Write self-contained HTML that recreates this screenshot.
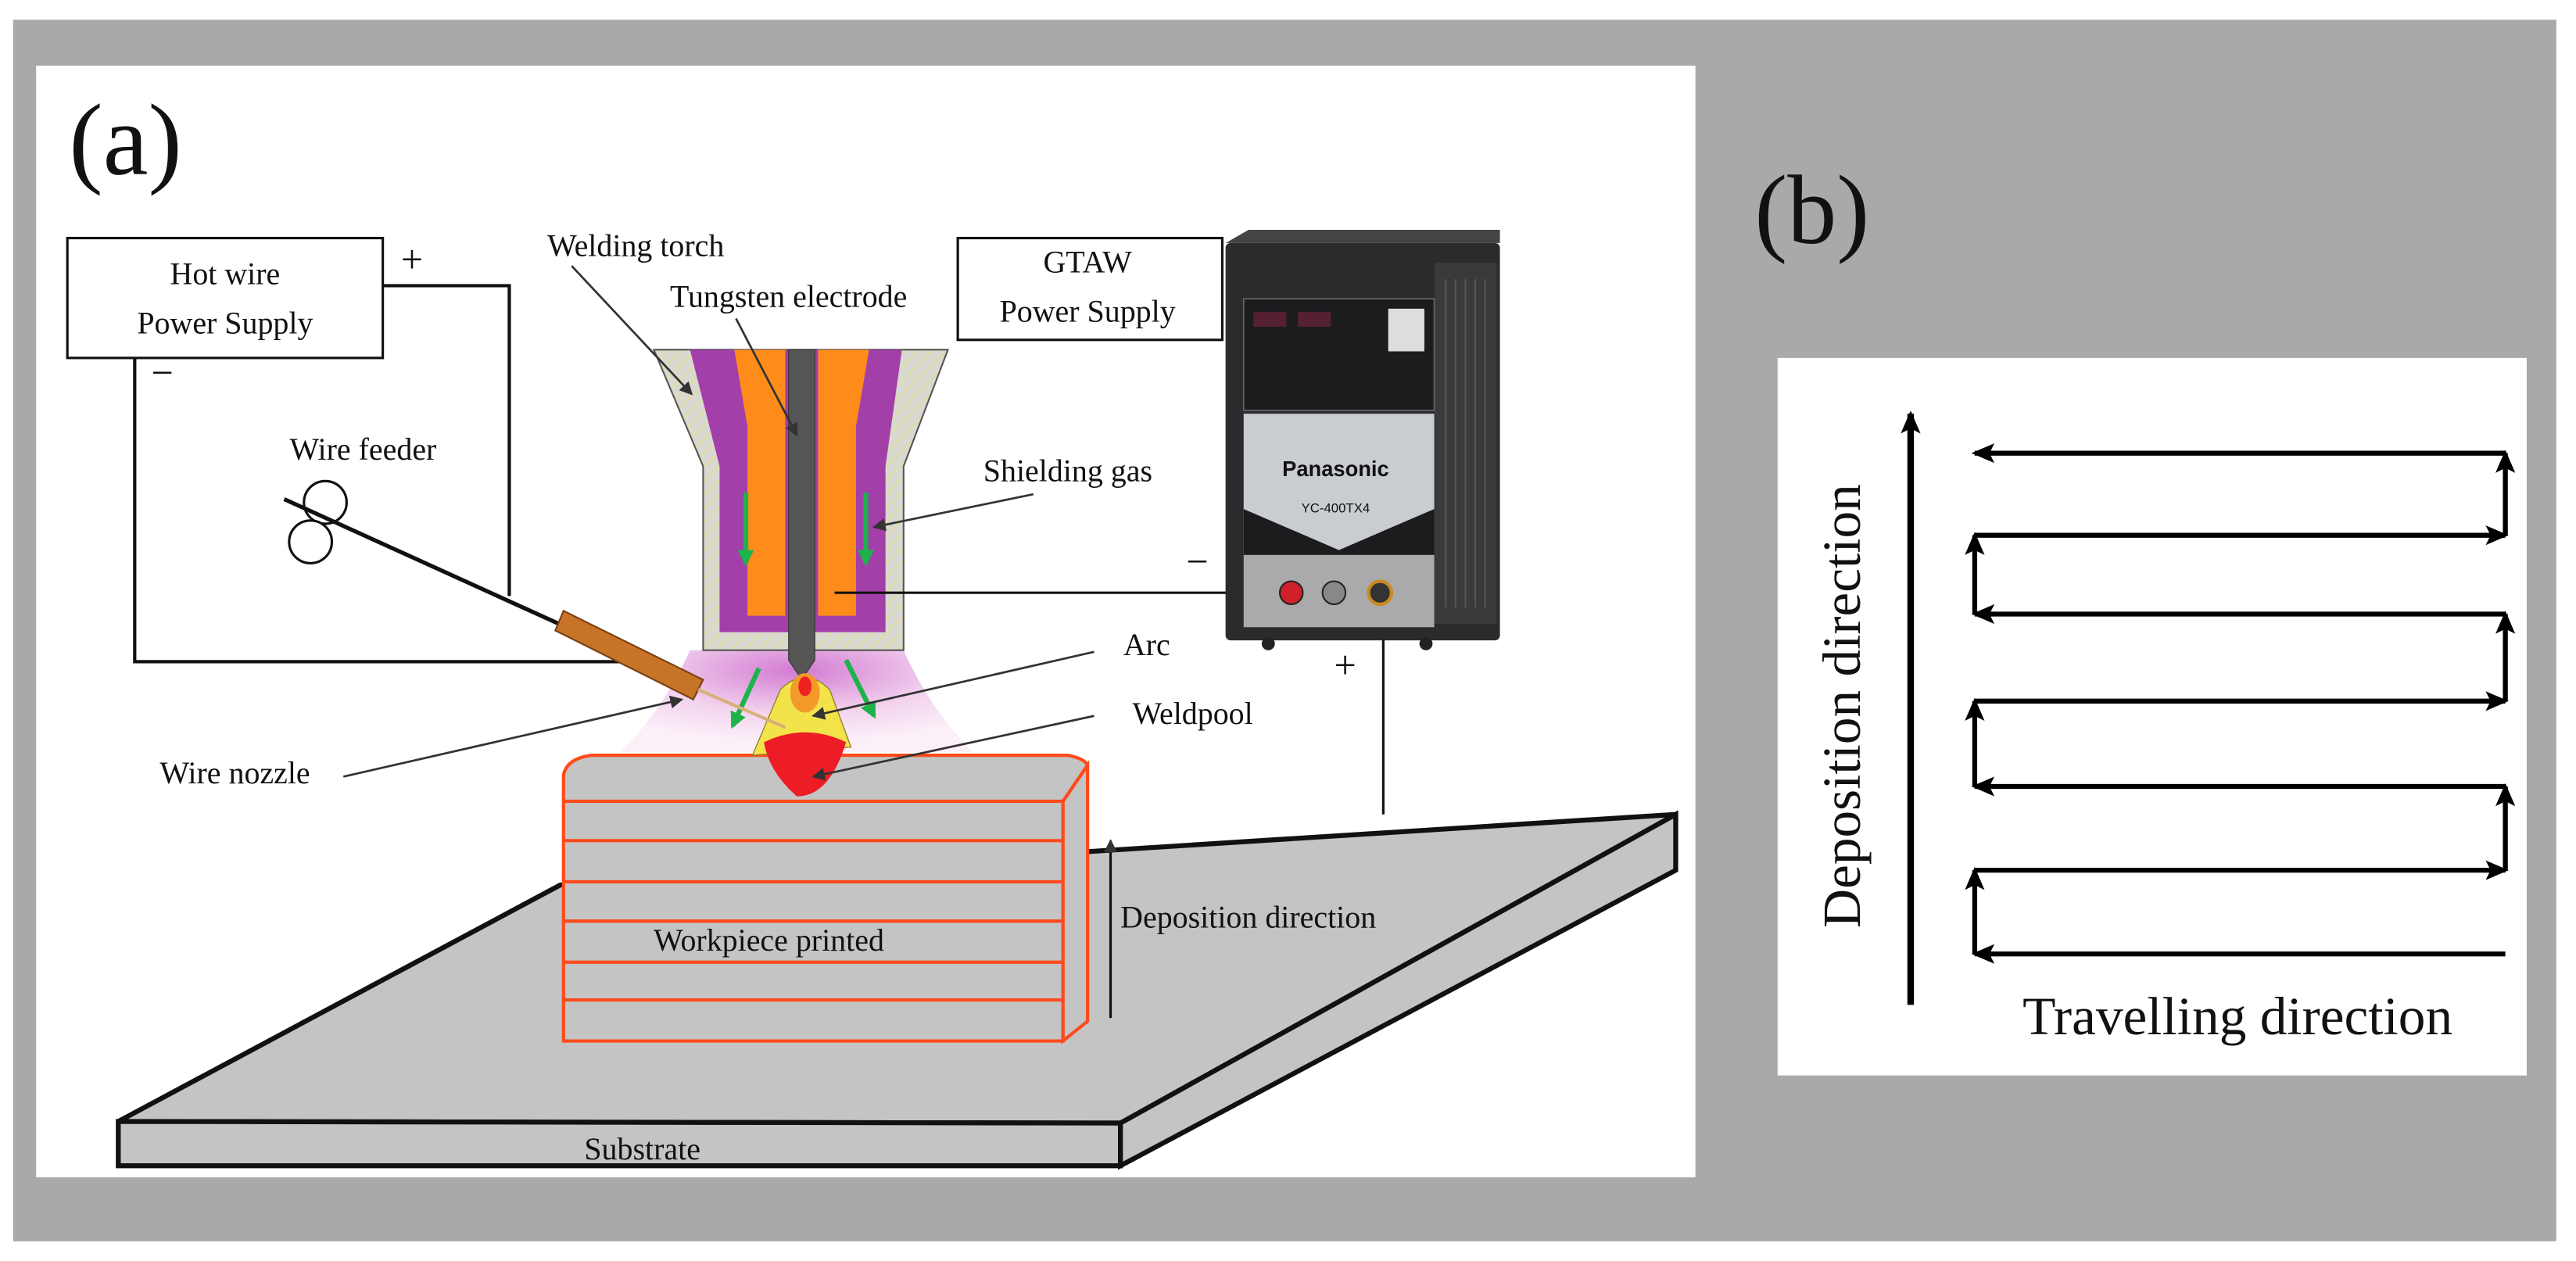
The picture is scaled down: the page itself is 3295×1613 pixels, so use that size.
<!DOCTYPE html>
<html><head><meta charset="utf-8"><style>
html,body{margin:0;padding:0;background:#fff;width:3295px;height:1613px;overflow:hidden}
svg{display:block}
text{font-family:"Liberation Serif",serif;fill:#111}
</style></head><body>
<svg width="3295" height="1613" viewBox="0 0 1568 768" preserveAspectRatio="none" xmlns="http://www.w3.org/2000/svg">
<defs>
<marker id="ah" markerWidth="8" markerHeight="8" refX="7" refY="4" orient="auto" markerUnits="userSpaceOnUse"><path d="M0,0 L8,4 L0,8 Z" fill="#333"/></marker>
<marker id="bh" markerWidth="14" markerHeight="12" refX="12" refY="6" orient="auto" markerUnits="userSpaceOnUse"><path d="M0,0 L14,6 L0,12 L3,6 Z" fill="#000"/></marker>
<marker id="gh" markerWidth="10" markerHeight="10" refX="8" refY="5" orient="auto" markerUnits="userSpaceOnUse"><path d="M0,0 L10,5 L0,10 Z" fill="#1db34a"/></marker>
<radialGradient id="pk" cx="0.5" cy="0.2" r="0.7"><stop offset="0" stop-color="#d27ad2"/><stop offset="0.6" stop-color="#f3d3ee"/><stop offset="1" stop-color="#fbeff8"/></radialGradient>
<pattern id="hatch" width="6" height="6" patternUnits="userSpaceOnUse" patternTransform="rotate(45)"><rect width="6" height="6" fill="#d9d9d2"/><line x1="0" y1="0" x2="0" y2="6" stroke="#e8e070" stroke-width="1"/></pattern>
</defs>
<rect x="8" y="12" width="1548" height="744" fill="#a9a9a9"/>
<rect x="22" y="40" width="1010" height="677" fill="#fff"/>
<rect x="1082" y="218" width="456" height="437" fill="#fff"/>
<text x="42" y="106" font-size="62">(a)</text>
<text x="1068" y="148" font-size="60">(b)</text>

<!-- substrate -->
<polygon points="72,683 341,539 1020,496 682,684" fill="#c4c4c4" stroke="#111" stroke-width="3"/>
<polygon points="72,683 682,684 682,710 72,710" fill="#c4c4c4" stroke="#111" stroke-width="3"/>
<polygon points="682,684 1020,496 1020,530 682,710" fill="#c4c4c4" stroke="#111" stroke-width="3"/>
<text x="391" y="706" font-size="19" text-anchor="middle">Substrate</text>

<!-- machine wire -->
<line x1="842" y1="363" x2="842" y2="496" stroke="#111" stroke-width="1.5"/>
<text x="812" y="413" font-size="24">+</text>

<!-- workpiece -->
<g stroke="#ff4a1c" stroke-width="2" fill="#c4c4c4">
<polygon points="647,488 662,466 662,622 647,634"/>
<path d="M343,634 L343,472 Q345,462 360,460 L650,460 Q660,462 662,466 L647,488 L647,634 Z"/>
<line x1="343" y1="488" x2="647" y2="488"/><line x1="343" y1="512" x2="647" y2="512"/>
<line x1="343" y1="537" x2="647" y2="537"/><line x1="343" y1="561" x2="647" y2="561"/>
<line x1="343" y1="586" x2="647" y2="586"/><line x1="343" y1="609" x2="647" y2="609"/>
</g>
<text x="468" y="579" font-size="19" text-anchor="middle">Workpiece printed</text>
<line x1="676" y1="620" x2="676" y2="512" stroke="#111" stroke-width="1.5" marker-end="url(#ah)"/>
<text x="682" y="565" font-size="19">Deposition direction</text>

<!-- plasma -->
<path d="M420,396 L550,396 Q565,430 592,458 L378,458 Q405,430 420,396 Z" fill="url(#pk)"/>
<!-- torch -->
<polygon points="398,213 577,213 550,284 550,396 428,396 428,284" fill="url(#hatch)" stroke="#555" stroke-width="1"/>
<polygon points="420,213 549,213 539,284 539,385 438,385 438,284" fill="#a23fa8"/>
<polygon points="447,213 478,213 478,375 455,375 455,260" fill="#ff8c1a"/>
<polygon points="498,213 529,213 521,260 521,375 498,375" fill="#ff8c1a"/>
<polygon points="480,213 496,213 496,402 488,414 480,402" fill="#555" stroke="#333" stroke-width="0.5"/>
<line x1="454" y1="300" x2="454" y2="343" stroke="#1db34a" stroke-width="3" marker-end="url(#gh)"/>
<line x1="527" y1="300" x2="527" y2="343" stroke="#1db34a" stroke-width="3" marker-end="url(#gh)"/>
<!-- weld -->
<path d="M475,420 Q490,405 505,420 L518,455 L458,460 Z" fill="#f2e34a" stroke="#8a7a20" stroke-width="0.6"/>
<ellipse cx="490" cy="422" rx="9" ry="12" fill="#f29a2a"/><ellipse cx="490" cy="418" rx="4" ry="6" fill="#e22"/>
<path d="M465,452 Q490,440 515,452 Q505,485 485,485 Q468,470 465,452 Z" fill="#ee1c24"/>
<line x1="462" y1="407" x2="446" y2="442" stroke="#1db34a" stroke-width="3" marker-end="url(#gh)"/>
<line x1="515" y1="402" x2="532" y2="436" stroke="#1db34a" stroke-width="3" marker-end="url(#gh)"/>

<!-- hot wire circuit -->
<rect x="41" y="145" width="192" height="73" fill="#fff" stroke="#111" stroke-width="1.5"/>
<text x="137" y="173" font-size="19" text-anchor="middle">Hot wire</text>
<text x="137" y="203" font-size="19" text-anchor="middle">Power Supply</text>
<text x="244" y="166" font-size="24">+</text>
<text x="92" y="235" font-size="24">−</text>
<polyline points="233,174 310,174 310,363" fill="none" stroke="#111" stroke-width="2"/>
<polyline points="82,218 82,403 388,403" fill="none" stroke="#111" stroke-width="2"/>
<text x="221" y="280" font-size="19" text-anchor="middle">Wire feeder</text>
<circle cx="198" cy="306" r="13" fill="#fff" stroke="#111" stroke-width="1.5"/>
<circle cx="189" cy="330" r="13" fill="#fff" stroke="#111" stroke-width="1.5"/>
<line x1="173" y1="304" x2="391" y2="403" stroke="#111" stroke-width="2.5"/>
<polygon points="343,372 428,414 422,426 338,384" fill="#c8732a" stroke="#7a4010" stroke-width="1"/>
<line x1="425" y1="420" x2="478" y2="443" stroke="#d9b07a" stroke-width="2"/>
<text x="143" y="477" font-size="19" text-anchor="middle">Wire nozzle</text>
<line x1="209" y1="473" x2="415" y2="426" stroke="#333" stroke-width="1.3" marker-end="url(#ah)"/>

<!-- labels -->
<text x="387" y="156" font-size="19" text-anchor="middle">Welding torch</text>
<line x1="348" y1="162" x2="421" y2="240" stroke="#333" stroke-width="1.3" marker-end="url(#ah)"/>
<text x="480" y="187" font-size="19" text-anchor="middle">Tungsten electrode</text>
<line x1="448" y1="194" x2="485" y2="265" stroke="#333" stroke-width="1.3" marker-end="url(#ah)"/>
<rect x="583" y="145" width="161" height="62" fill="#fff" stroke="#111" stroke-width="1.5"/>
<text x="662" y="166" font-size="19" text-anchor="middle">GTAW</text>
<text x="662" y="196" font-size="19" text-anchor="middle">Power Supply</text>
<text x="650" y="293" font-size="19" text-anchor="middle">Shielding gas</text>
<line x1="629" y1="301" x2="532" y2="321" stroke="#333" stroke-width="1.3" marker-end="url(#ah)"/>
<text x="698" y="399" font-size="19" text-anchor="middle">Arc</text>
<line x1="666" y1="397" x2="495" y2="436" stroke="#333" stroke-width="1.3" marker-end="url(#ah)"/>
<text x="726" y="441" font-size="19" text-anchor="middle">Weldpool</text>
<line x1="666" y1="436" x2="495" y2="473" stroke="#333" stroke-width="1.3" marker-end="url(#ah)"/>

<!-- electrode to machine -->
<line x1="508" y1="361" x2="786" y2="361" stroke="#111" stroke-width="1.5"/>
<text x="722" y="350" font-size="24">−</text>

<!-- machine -->
<rect x="746" y="148" width="167" height="242" fill="#2b2b2e" rx="3"/>
<polygon points="746,148 760,140 913,140 913,148" fill="#444"/>
<rect x="873" y="160" width="38" height="220" fill="#3a3a3d"/>
<g stroke="#555" stroke-width="1">
<line x1="880" y1="170" x2="880" y2="370"/><line x1="886" y1="170" x2="886" y2="370"/><line x1="892" y1="170" x2="892" y2="370"/><line x1="898" y1="170" x2="898" y2="370"/><line x1="904" y1="170" x2="904" y2="370"/>
</g>
<rect x="757" y="182" width="116" height="68" fill="#1c1c1f" stroke="#666" stroke-width="0.8"/>
<rect x="763" y="190" width="20" height="9" fill="#552030"/><rect x="790" y="190" width="20" height="9" fill="#552030"/>
<rect x="845" y="188" width="22" height="26" fill="#ddd"/>
<rect x="757" y="252" width="116" height="86" fill="#c9ccd0"/>
<polygon points="757,310 815,335 873,310 873,338 757,338" fill="#1c1c1f"/>
<text x="813" y="290" font-size="13" font-family="Liberation Sans,sans-serif" font-weight="bold" text-anchor="middle" style="font-family:'Liberation Sans',sans-serif">Panasonic</text>
<text x="813" y="312" font-size="8" text-anchor="middle" style="font-family:'Liberation Sans',sans-serif">YC-400TX4</text>
<rect x="757" y="338" width="116" height="44" fill="#aaa"/>
<circle cx="786" cy="361" r="7" fill="#d0202a" stroke="#222"/>
<circle cx="812" cy="361" r="7" fill="#888" stroke="#222"/>
<circle cx="840" cy="361" r="7" fill="#333" stroke="#c98a20" stroke-width="2"/>
<circle cx="772" cy="392" r="4" fill="#222"/><circle cx="868" cy="392" r="4" fill="#222"/>

<!-- panel b -->
<line x1="1163" y1="612" x2="1163" y2="252" stroke="#000" stroke-width="4" marker-end="url(#bh)"/>
<text x="0" y="0" font-size="33" text-anchor="middle" transform="translate(1132,430) rotate(-90)">Deposition direction</text>
<g stroke="#000" stroke-width="3" fill="none">
<line x1="1525" y1="276" x2="1202" y2="276" marker-end="url(#bh)"/>
<line x1="1525" y1="326" x2="1525" y2="276" marker-end="url(#bh)"/>
<line x1="1202" y1="326" x2="1525" y2="326" marker-end="url(#bh)"/>
<line x1="1202" y1="374" x2="1202" y2="326" marker-end="url(#bh)"/>
<line x1="1525" y1="374" x2="1202" y2="374" marker-end="url(#bh)"/>
<line x1="1525" y1="427" x2="1525" y2="374" marker-end="url(#bh)"/>
<line x1="1202" y1="427" x2="1525" y2="427" marker-end="url(#bh)"/>
<line x1="1202" y1="479" x2="1202" y2="427" marker-end="url(#bh)"/>
<line x1="1525" y1="479" x2="1202" y2="479" marker-end="url(#bh)"/>
<line x1="1525" y1="530" x2="1525" y2="479" marker-end="url(#bh)"/>
<line x1="1202" y1="530" x2="1525" y2="530" marker-end="url(#bh)"/>
<line x1="1202" y1="581" x2="1202" y2="530" marker-end="url(#bh)"/>
<line x1="1525" y1="581" x2="1202" y2="581" marker-end="url(#bh)"/>
</g>
<text x="1362" y="630" font-size="33" text-anchor="middle">Travelling direction</text>
</svg>
</body></html>
